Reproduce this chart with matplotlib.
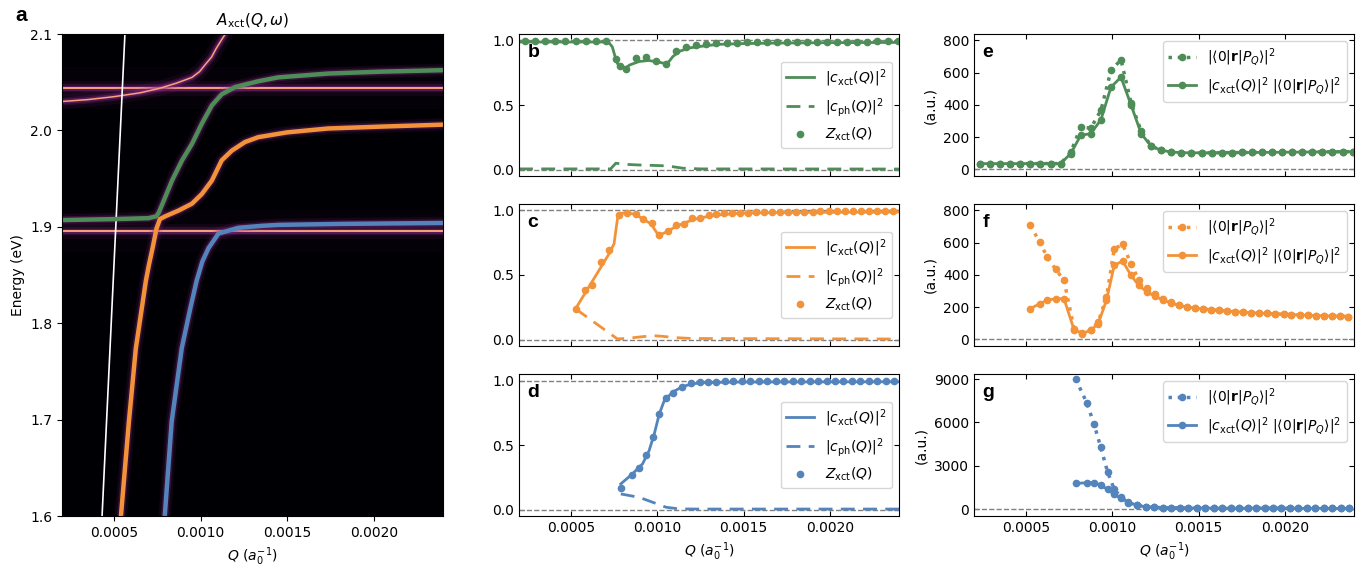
import matplotlib.pyplot as plt

GREEN = '#4e8d58'
ORANGE = '#f39339'
BLUE = '#5384bb'
PINK = '#f9a27c'
HALO = '#8a2a86'

# all Q values are in units of 1e-4 a0^-1
S = 1e-4

# ---- panel a: dispersions ----
photon_q = [4.31, 5.63]
photon_e = [1.60, 2.10]

exc_levels = [1.896, 2.044]

upper_q = [2.0, 3.5, 5.0, 6.5, 7.6, 8.6, 9.5, 9.94, 10.3, 10.63, 10.9, 11.21, 11.5]
upper_e = [2.030, 2.032, 2.035, 2.039, 2.0435, 2.049, 2.055, 2.061, 2.069, 2.076, 2.085, 2.094, 2.102]

green_q = [1.95, 5.0, 7.0, 7.45, 7.59, 7.87, 8.35, 8.93, 9.50, 10.07, 10.65, 11.22, 11.99,
           13.33, 14.48, 17.36, 20.5, 24.0]
green_e = [1.907, 1.908, 1.909, 1.911, 1.915, 1.927, 1.948, 1.969, 1.986, 2.007, 2.026, 2.0375,
           2.045, 2.051, 2.055, 2.059, 2.061, 2.0625]

orange_q = [5.40, 5.86, 6.26, 6.84, 7.01, 7.25, 7.45, 7.65, 7.97, 8.74, 9.50, 10.07, 10.65,
            11.22, 11.80, 12.57, 13.33, 15.0, 17.36, 20.5, 24.0]
orange_e = [1.600, 1.698, 1.774, 1.844, 1.860, 1.880, 1.898, 1.908, 1.911, 1.917, 1.924, 1.934,
            1.948, 1.969, 1.979, 1.988, 1.993, 1.998, 2.002, 2.004, 2.006]

blue_q = [7.93, 8.33, 8.91, 9.40, 9.77, 10.1, 10.46, 11.03, 12.18, 13.51, 14.48, 18.0, 24.0]
blue_e = [1.600, 1.698, 1.774, 1.815, 1.844, 1.864, 1.878, 1.893, 1.899, 1.901, 1.902, 1.903, 1.904]

# ---- Q grids of the sampled points ----
q_grid_b = [2.35, 2.93, 3.52, 4.10, 4.68, 5.27, 5.85, 6.43, 7.01, 7.60, 8.18, 8.76, 9.35, 9.93,
            10.51, 11.10, 11.68, 12.26, 12.84, 13.43, 14.01, 14.59, 15.18, 15.76, 16.34, 16.92,
            17.51, 18.09, 18.67, 19.26, 19.84, 20.42, 21.00, 21.59, 22.17, 22.75, 23.34, 23.92]
q_grid_c = [5.27, 5.80, 6.24, 6.73, 7.21, 7.79, 8.27, 8.76, 9.19, 9.67, 10.12, 10.60, 11.09,
            11.53, 12.02, 12.48, 12.97, 13.41, 13.86, 14.34, 14.80, 15.27, 15.73, 16.20, 16.66,
            17.13, 17.59, 18.06, 18.52, 18.99, 19.45, 19.92, 20.38, 20.85, 21.31, 21.78, 22.24,
            22.71, 23.17, 23.64]
q_grid_d = [7.89, 8.53, 8.95, 9.34, 9.73, 10.12, 10.51, 10.89, 11.44, 11.96, 12.45, 12.94,
            13.43, 13.92, 14.41, 14.90, 15.39, 15.88, 16.37, 16.86, 17.35, 17.84, 18.33, 18.82,
            19.31, 19.80, 20.29, 20.78, 21.27, 21.76, 22.25, 22.74, 23.23, 23.72]

# ---- panel b ----
b_line_q = [2.0, 6.8, 7.2, 7.4, 7.55, 7.7, 7.9, 8.2, 8.4, 8.95, 9.5, 10.1, 10.5, 10.7, 10.9,
            11.3, 11.9, 12.9, 13.6, 15.0, 17.0, 20.0, 24.0]
b_xct = [0.988, 0.988, 0.984, 0.95, 0.88, 0.82, 0.798, 0.79, 0.81, 0.837, 0.845, 0.832, 0.82,
         0.84, 0.875, 0.917, 0.943, 0.961, 0.970, 0.976, 0.980, 0.983, 0.985]
b_ph_q = [2.0, 7.3, 7.6, 8.2, 9.0, 10.0, 10.6, 11.0, 11.5, 12.5, 24.0]
b_ph = [0.005, 0.005, 0.049, 0.040, 0.035, 0.031, 0.028, 0.020, 0.010, 0.005, 0.004]
b_dot_q = [2.35, 2.93, 3.52, 4.10, 4.68, 5.27, 5.85, 6.43, 7.01, 7.60, 7.85, 8.18, 8.76, 9.35,
           9.93, 10.51, 11.10, 11.68, 12.26, 12.84, 13.43, 14.01, 14.59, 15.18, 15.76, 16.34,
           16.92, 17.51, 18.09, 18.67, 19.26, 19.84, 20.42, 21.00, 21.59, 22.17, 22.75, 23.34,
           23.92]
b_z = [0.998, 0.998, 0.998, 0.998, 0.998, 0.998, 0.998, 0.997, 0.995, 0.858, 0.806, 0.78,
       0.863, 0.87, 0.84, 0.814, 0.917, 0.953, 0.967, 0.975, 0.979, 0.982, 0.984, 0.985, 0.986,
       0.987, 0.988, 0.989, 0.989, 0.990, 0.990, 0.991, 0.991, 0.992, 0.992, 0.992, 0.993, 0.993,
       0.993]

# ---- panel c ----
c_line_q = [5.27, 7.21, 7.50, 7.63, 7.73, 7.89, 8.37, 8.76, 9.15, 9.63, 10.08, 10.51, 11.09,
            11.67, 12.25, 13.22, 14.77, 17.0, 20.0, 24.0]
c_xct = [0.238, 0.664, 0.742, 0.871, 0.961, 0.979, 0.979, 0.969, 0.935, 0.897, 0.806, 0.832,
         0.876, 0.909, 0.935, 0.961, 0.979, 0.984, 0.986, 0.988]
c_ph_q = [5.27, 7.69, 8.2, 9.0, 9.73, 10.3, 11.0, 12.0, 24.0]
c_ph = [0.238, 0.005, 0.008, 0.020, 0.030, 0.025, 0.015, 0.008, 0.004]
c_z = [0.238, 0.385, 0.419, 0.602, 0.695, 0.961, 0.979, 0.974, 0.935, 0.902, 0.806, 0.84, 0.884,
       0.897, 0.943, 0.943, 0.961, 0.974, 0.979, 0.98, 0.982, 0.984, 0.985, 0.986, 0.987, 0.988,
       0.989, 0.99, 0.99, 0.991, 0.992, 0.992, 0.993, 0.993, 0.994, 0.994, 0.995, 0.995, 0.996,
       0.996]

# ---- panel d ----
d_line_q = [7.89, 8.57, 9.15, 9.53, 9.83, 10.12, 10.41, 10.89, 11.47, 12.05, 12.83, 14.77, 24.0]
d_xct = [0.199, 0.277, 0.354, 0.457, 0.587, 0.742, 0.845, 0.91, 0.953, 0.975, 0.984, 0.988, 0.99]
d_ph_q = [7.89, 8.95, 9.73, 10.51, 11.28, 12.5, 24.0]
d_ph = [0.121, 0.095, 0.057, 0.018, 0.005, 0.004, 0.004]
d_z = [0.168, 0.271, 0.323, 0.419, 0.561, 0.742, 0.863, 0.902, 0.953, 0.979, 0.986, 0.99,
       0.992, 0.993, 0.994, 0.995, 0.995, 0.996, 0.996, 0.997, 0.997, 0.997, 0.998, 0.998, 0.998,
       0.998, 0.998, 0.998, 0.999, 0.999, 0.999, 0.999, 0.999, 0.999]

# ---- panel e ----
e_dip = [35, 35, 35, 35, 35, 35, 35, 35, 35, 105, 262, 255, 366, 614, 680, 409, 236, 143, 118,
         107, 103, 102, 102, 102, 103, 103, 104, 104, 105, 105, 106, 106, 107, 107, 108, 108,
         109, 109]
e_wt = [35, 35, 35, 35, 35, 35, 35, 35, 35, 97, 211, 221, 308, 510, 572, 397, 221, 143, 118,
        107, 103, 102, 102, 102, 103, 103, 104, 104, 105, 105, 106, 106, 107, 107, 108, 108,
        109, 109]

# ---- panel f ----
f_dip = [707, 603, 511, 434, 366, 66, 39, 56, 107, 262, 562, 589, 469, 370, 320, 283, 252, 230,
         214, 202, 194, 188, 183, 179, 175, 171, 168, 165, 162, 160, 157, 155, 153, 151, 149,
         147, 146, 144, 143, 141]
f_wt = [190, 221, 242, 252, 252, 60, 35, 56, 97, 242, 459, 486, 397, 335, 293, 267, 242, 225,
        211, 200, 194, 188, 183, 179, 175, 171, 168, 165, 162, 160, 157, 155, 153, 151, 149,
        147, 146, 144, 143, 141]

# ---- panel g ----
g_dip = [9000, 7360, 5885, 4270, 2585, 1360, 850, 440, 280, 155, 115, 100, 92, 86, 82, 78, 75,
         72, 70, 68, 66, 64, 63, 62, 61, 60, 59, 58, 57, 57, 56, 56, 55, 55]
g_wt = [1777, 1823, 1823, 1662, 1360, 1015, 738, 508, 260, 150, 112, 98, 90, 85, 81, 77, 74,
        72, 70, 68, 66, 64, 63, 62, 61, 60, 59, 58, 57, 57, 56, 56, 55, 55]


def scale(q):
    return [v * S for v in q]


def glow(ax, x, y, layers):
    for w, a in layers:
        ax.plot(x, y, color=HALO, lw=w, alpha=a, solid_capstyle='butt')


THIN_GLOW = [(30, 0.035), (11, 0.1), (6, 0.22), (3.5, 0.45)]
THICK_GLOW = [(9, 0.12), (5.5, 0.3)]


def style_small(ax, label):
    ax.set_xlim(2 * S, 24 * S)
    ax.tick_params(direction='in', top=True, right=True, labelsize=10)
    ax.set_xticks([5 * S, 10 * S, 15 * S, 20 * S])
    ax.text(0.022, 0.93, label, transform=ax.transAxes, fontsize=14, fontweight='bold',
            family='Liberation Sans', va='top', ha='left')


def main():
    fig = plt.figure(figsize=(13.67, 5.67), dpi=100)

    # panel a
    ax = fig.add_axes([0.0454, 0.0899, 0.2787, 0.8501])
    ax.set_facecolor('#000004')
    for lev in exc_levels:
        glow(ax, [2 * S, 24 * S], [lev, lev], THIN_GLOW)
        ax.axhline(lev, color=PINK, lw=1.4)
    glow(ax, scale(upper_q), upper_e, THIN_GLOW[1:])
    ax.plot(scale(upper_q), upper_e, color=PINK, lw=1.1)
    for q, e in [(green_q, green_e), (orange_q, orange_e), (blue_q, blue_e)]:
        glow(ax, scale(q), e, THICK_GLOW)
    ax.plot(scale(photon_q), photon_e, color='white', lw=1.2)
    for q, e, c in [(green_q, green_e, GREEN), (orange_q, orange_e, ORANGE),
                    (blue_q, blue_e, BLUE)]:
        ax.plot(scale(q), e, color=c, lw=3.2)
    ax.set_xlim(2 * S, 24 * S)
    ax.set_ylim(1.6, 2.1)
    ax.set_xticks([5 * S, 10 * S, 15 * S, 20 * S])
    ax.set_yticks([1.6, 1.7, 1.8, 1.9, 2.0, 2.1])
    ax.set_xlabel(r'$Q\ (a_0^{-1})$')
    ax.set_ylabel('Energy (eV)')
    ax.set_title(r'$A_{\rm xct}(Q,\omega)$', fontsize=11)
    fig.text(0.011, 0.99, 'a', fontsize=15, fontweight='bold', family='Liberation Sans',
             va='top')

    # panels b, c, d
    left_sets = [
        ('b', 0.6896, GREEN, b_line_q, b_xct, b_ph_q, b_ph, b_dot_q, b_z),
        ('c', 0.3898, ORANGE, c_line_q, c_xct, c_ph_q, c_ph, q_grid_c, c_z),
        ('d', 0.0899, BLUE, d_line_q, d_xct, d_ph_q, d_ph, q_grid_d, d_z),
    ]
    for lab, y0, col, lq, lx, pq, pv, dq, dz in left_sets:
        ax = fig.add_axes([0.3797, y0, 0.278, 0.2504])
        ax.axhline(0, color='gray', ls='--', lw=1)
        ax.axhline(1, color='gray', ls='--', lw=1)
        ax.plot(scale(lq), lx, color=col, lw=2, label=r'$|c_{\rm xct}(Q)|^2$')
        ax.plot(scale(pq), pv, color=col, lw=2, ls=(0, (5, 3)), label=r'$|c_{\rm ph}(Q)|^2$')
        ax.plot(scale(dq), dz, 'o', color=col, ms=4.5, label=r'$Z_{\rm xct}(Q)$')
        ax.set_ylim(-0.05, 1.05)
        ax.set_yticks([0, 0.5, 1.0])
        ax.set_yticklabels(['0.0', '0.5', '1.0'])
        style_small(ax, lab)
        ax.legend(loc='center right', fontsize=10)
        if lab != 'd':
            ax.set_xticklabels([])
        else:
            ax.set_xlabel(r'$Q\ (a_0^{-1})$')

    # panels e, f, g
    right_sets = [
        ('e', 0.6896, GREEN, q_grid_b, e_dip, e_wt, (-42, 840), [0, 200, 400, 600, 800]),
        ('f', 0.3898, ORANGE, q_grid_c, f_dip, f_wt, (-42, 840), [0, 200, 400, 600, 800]),
        ('g', 0.0899, BLUE, q_grid_d, g_dip, g_wt, (-480, 9350), [0, 3000, 6000, 9000]),
    ]
    for lab, y0, col, q, dip, wt, ylim, yt in right_sets:
        ax = fig.add_axes([0.7125, y0, 0.278, 0.2504])
        ax.axhline(0, color='gray', ls='--', lw=1)
        ax.plot(scale(q), dip, ':', marker='o', color=col, lw=2.5, ms=4.5,
                label=r'$|\langle 0|\mathbf{r}|P_Q\rangle|^2$')
        ax.plot(scale(q), wt, '-', marker='o', color=col, lw=2, ms=4.5,
                label=r'$|c_{\rm xct}(Q)|^2\ |\langle 0|\mathbf{r}|P_Q\rangle|^2$')
        ax.set_ylim(*ylim)
        ax.set_yticks(yt)
        ax.set_ylabel('(a.u.)')
        style_small(ax, lab)
        ax.legend(loc='upper right', fontsize=10)
        if lab != 'g':
            ax.set_xticklabels([])
        else:
            ax.set_xlabel(r'$Q\ (a_0^{-1})$')

    fig.savefig('out.png', dpi=100)


if __name__ == "__main__":
    main()
